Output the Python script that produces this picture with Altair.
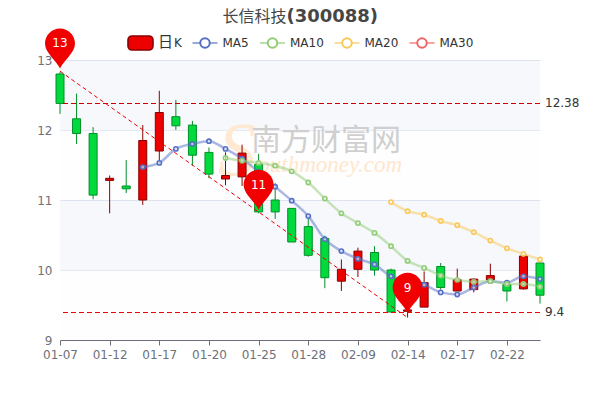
import altair as alt
import json
import pandas as pd

dates = ["01-07","01-10","01-11","01-12","01-13","01-14","01-17","01-18","01-19","01-20",
         "01-21","01-24","01-25","01-26","01-27","01-28","02-07","02-08","02-09","02-10",
         "02-11","02-14","02-15","02-16","02-17","02-18","02-21","02-22","02-23","02-24"]
opens  = [12.80,12.16,11.95,11.28,11.20,11.00,11.70,12.19,12.07,11.68,11.30,11.33,11.51,11.00,10.88,10.62,10.45, 9.84,10.01,10.25,10.00, 9.41, 9.47,10.05, 9.70, 9.72, 9.86, 9.79, 9.73,10.10]
closes = [12.38,11.95,11.07,11.31,11.16,11.85,12.25,12.06,11.64,11.37,11.35,11.67,10.83,10.83,10.40,10.21, 9.89,10.01,10.27,10.00, 9.40, 9.43, 9.82, 9.75, 9.86, 9.87, 9.92, 9.70,10.20, 9.64]
highs  = [12.83,12.52,12.04,11.35,11.57,12.07,12.56,12.43,12.13,11.75,11.68,11.79,11.66,11.24,10.88,10.73,10.49,10.15,10.32,10.34,10.02, 9.50, 9.98,10.10,10.02, 9.88,10.09, 9.81,10.21,10.11]
lows   = [12.23,11.80,11.01,10.81,11.10,10.93,11.52,12.00,11.49,11.31,11.21,11.20,10.81,10.73,10.40,10.19, 9.74, 9.70, 9.90, 9.92, 9.40, 9.32, 9.47, 9.72, 9.70, 9.68, 9.84, 9.55, 9.72, 9.52]
ma5  = [None]*5 + [11.47,11.53,11.73,11.80,11.84,11.73,11.59,11.40,11.19,10.99,10.77,10.44,10.27,10.16,10.08,9.91,9.86,9.79,9.68,9.65,9.75,9.84,9.82,9.91,9.87]
ma10 = [None]*10 + [11.60,11.56,11.53,11.49,11.41,11.25,11.02,10.81,10.67,10.53,10.34,10.13,10.03,9.92,9.86,9.83,9.84,9.80,9.80,9.76]
ma20 = [None]*20 + [10.97,10.84,10.79,10.70,10.64,10.54,10.42,10.31,10.23,10.15]
series_names = ["MA5", "MA10", "MA20", "MA30"]
series_colors = ["#5470C6", "#91CC75", "#FAC858", "#EE6666"]
pin_dates = ["01-07", "01-25", "02-14"]
pin_values = [12.88, 10.86, 9.39]
pin_labels = ["13", "11", "9"]
trend_dates = ["01-07", "02-14"]
trend_values = [12.84, 9.32]
band_tops = [13, 12, 11, 10]
band_bottoms = [12, 11, 10, 9]
band_fills = ["rgba(210,219,238,0.2)", "rgba(250,250,250,0.2)"] * 2

FONT = "DejaVu Sans"
PIN = ("M0 0 C-0.25 -0.55 -1 -1.05 -1 -1.667 C-1 -2.22 -0.55 -2.667 0 -2.667 "
       "C0.55 -2.667 1 -2.22 1 -1.667 C1 -1.05 0.25 -0.55 0 0 Z")

x_scale = alt.Scale(domain=[0, len(dates) - 1], nice=False, zero=False, padding=0)
y_scale = alt.Scale(domain=[9, 13], nice=False, zero=False)
x_axis = alt.Axis(values=list(range(0, len(dates), 3)), title=None, labelAngle=0, labelColor="#6E7079",
                  labelExpr=f"{json.dumps(dates)}[datum.value]",
                  labelFontSize=12, labelFont=FONT, domainColor="#6E7079", tickColor="#6E7079",
                  ticks=True, tickSize=5, tickWidth=1, labelPadding=4, grid=False, labelOverlap=False, labelFlush=False)
y_axis = alt.Axis(title=None, values=[9, 10, 11, 12, 13], domain=False, ticks=False, grid=True,
                  gridColor="#E0E6F1", labelColor="#6E7079", labelFontSize=12, labelFont=FONT,
                  labelPadding=8)


def X(field="i"):
    return alt.X(f"{field}:Q", scale=x_scale, axis=x_axis)


def Y(field="v"):
    return alt.Y(f"{field}:Q", scale=y_scale, axis=y_axis)


idx = list(range(len(dates)))
candles = pd.DataFrame(dict(i=idx, o=opens, c=closes, h=highs, l=lows))
candles["up"] = candles.c >= candles.o
up_dom = [True, False]

bands = alt.Chart(pd.DataFrame(dict(top=band_tops, bottom=band_bottoms, f=band_fills))).mark_rect().encode(
    y=Y("top"), y2="bottom:Q", fill=alt.Fill("f:N", scale=None))

axes = alt.Chart(candles.assign(v=candles.l)).mark_point(opacity=0).encode(x=X(), y=Y())

# watermark
wm_s = alt.Chart(pd.DataFrame({"t": ["S"]})).mark_text(
    font="Liberation Serif", fontSize=76, fontStyle="italic", color="#FFE9D2", align="center", baseline="middle"
).encode(text="t:N", x=alt.value(177), y=alt.value(92))
wm_cn = alt.Chart(pd.DataFrame({"t": ["南方财富网"]})).mark_text(
    font="Noto Sans CJK SC", fontSize=30, color="#CFCFCF", align="left", baseline="middle"
).encode(text="t:N", x=alt.value(191), y=alt.value(81))
wm_en = alt.Chart(pd.DataFrame({"t": ["outhmoney.com"]})).mark_text(
    font="Liberation Serif", fontSize=23, fontStyle="italic", color="#FFE6CC", align="right", baseline="middle"
).encode(text="t:N", x=alt.value(342), y=alt.value(105))

wick = alt.Chart(candles).mark_rule(strokeWidth=1).encode(
    x=X(), y=Y("h"), y2="l:Q",
    color=alt.Color("up:N", scale=alt.Scale(domain=up_dom, range=["#8A0000", "#008F28"]), legend=None))
body = alt.Chart(candles).mark_bar(size=8, strokeWidth=1).encode(
    x=X(), y=Y("o"), y2="c:Q",
    fill=alt.Fill("up:N", scale=alt.Scale(domain=up_dom, range=["#EC0000", "#00DA3C"]), legend=None),
    stroke=alt.Stroke("up:N", scale=alt.Scale(domain=up_dom, range=["#8A0000", "#008F28"]), legend=None))

ma_layers = []
for name, vals, col in zip(series_names, [ma5, ma10, ma20], series_colors):
    d = pd.DataFrame(dict(i=idx, v=vals)).dropna()
    ma_layers.append(alt.Chart(d).mark_line(color=col, strokeWidth=2.5, opacity=0.5, interpolate="monotone").encode(x=X(), y=Y()))
    ma_layers.append(alt.Chart(d).mark_point(color=col, fill="white", filled=False, fillOpacity=0.6, size=18, strokeWidth=1.6, opacity=1).encode(x=X(), y=Y()))

rule_hi = alt.Chart(pd.DataFrame({"v": [12.38]})).mark_rule(color="#C80000", strokeWidth=1, strokeDash=[5, 3], yOffset=0.1).encode(y=Y())
rule_lo = alt.Chart(pd.DataFrame({"v": [9.4]})).mark_rule(color="#F00000", strokeWidth=1, strokeDash=[5, 3], yOffset=0.5).encode(y=Y())
rule_labels = alt.Chart(pd.DataFrame({"v": [12.38, 9.4], "t": ["12.38", "9.4"]})).mark_text(
    font=FONT, fontSize=12, color="#333333", align="left", baseline="middle", dx=5
).encode(y=Y(), x=alt.value(480), text="t:N")
trend = alt.Chart(pd.DataFrame(dict(i=[dates.index(d) for d in trend_dates], v=trend_values))).mark_line(
    color="#F00000", strokeWidth=1, strokeDash=[4, 3]).encode(x=X(), y=Y())

pins = pd.DataFrame(dict(i=[dates.index(d) for d in pin_dates], v=pin_values, t=pin_labels))
pin_marks = alt.Chart(pins).mark_point(shape=PIN, size=900, filled=True, color="#F00000", opacity=1, strokeWidth=0).encode(x=X(), y=Y())
pin_text = alt.Chart(pins).mark_text(font=FONT, fontSize=12, color="white", dy=-25, baseline="middle").encode(x=X(), y=Y(), text="t:N")

# legend drawn from the series names
legend_items = []
legend_items.append(alt.Chart(pd.DataFrame({"a": [0]})).mark_rect(
    fill="#EC0000", stroke="#8A0000", strokeWidth=1.6, cornerRadius=4).encode(
    x=alt.value(68), x2=alt.value(93), y=alt.value(-24), y2=alt.value(-10)))
legend_items.append(alt.Chart(pd.DataFrame({"t": ["日"]})).mark_text(
    font="Noto Sans CJK SC", fontSize=15, color="#333333", align="left", baseline="middle").encode(
    text="t:N", x=alt.value(98), y=alt.value(-18)))
legend_items.append(alt.Chart(pd.DataFrame({"t": ["K"]})).mark_text(
    font=FONT, fontSize=12, color="#333333", align="left", baseline="middle").encode(
    text="t:N", x=alt.value(114), y=alt.value(-17)))
for name, col, cx in zip(series_names, series_colors, [145, 212.5, 287, 362]):
    legend_items.append(alt.Chart(pd.DataFrame({"a": [0]})).mark_rule(color=col, strokeWidth=2, opacity=0.6).encode(
        x=alt.value(cx - 12.5), x2=alt.value(cx + 12.5), y=alt.value(-17)))
    legend_items.append(alt.Chart(pd.DataFrame({"a": [0]})).mark_point(color=col, fill="white", filled=False, fillOpacity=1, size=90, strokeWidth=2, opacity=1).encode(
        x=alt.value(cx), y=alt.value(-17)))
    legend_items.append(alt.Chart(pd.DataFrame({"t": [name]})).mark_text(
        font=FONT, fontSize=12, color="#333333", align="left", baseline="middle").encode(
        text="t:N", x=alt.value(cx + 17.5), y=alt.value(-17)))

title_cn = alt.Chart(pd.DataFrame({"t": ["长信科技"]})).mark_text(
    font="Noto Sans CJK SC", fontSize=16, color="#464646", align="left", baseline="middle").encode(
    text="t:N", x=alt.value(162.5), y=alt.value(-43.5))
title_code = alt.Chart(pd.DataFrame({"t": ["(300088)"]})).mark_text(
    font=FONT, fontSize=18, fontWeight="bold", color="#464646", align="left", baseline="middle").encode(
    text="t:N", x=alt.value(226.5), y=alt.value(-43.5))

chart = alt.layer(
    axes, bands, wm_s, wm_cn, wm_en, wick, body, *ma_layers, rule_hi, rule_lo, rule_labels, trend,
    pin_marks, pin_text, *legend_items, title_cn, title_code
).properties(
    width=480, height=280,
    autosize=alt.AutoSizeParams(type="none"),
    padding={"left": 52, "top": 52, "right": 52, "bottom": 48},
).configure_view(stroke=None)

chart.save("out.html", embed_options={"renderer": "svg", "actions": False})
